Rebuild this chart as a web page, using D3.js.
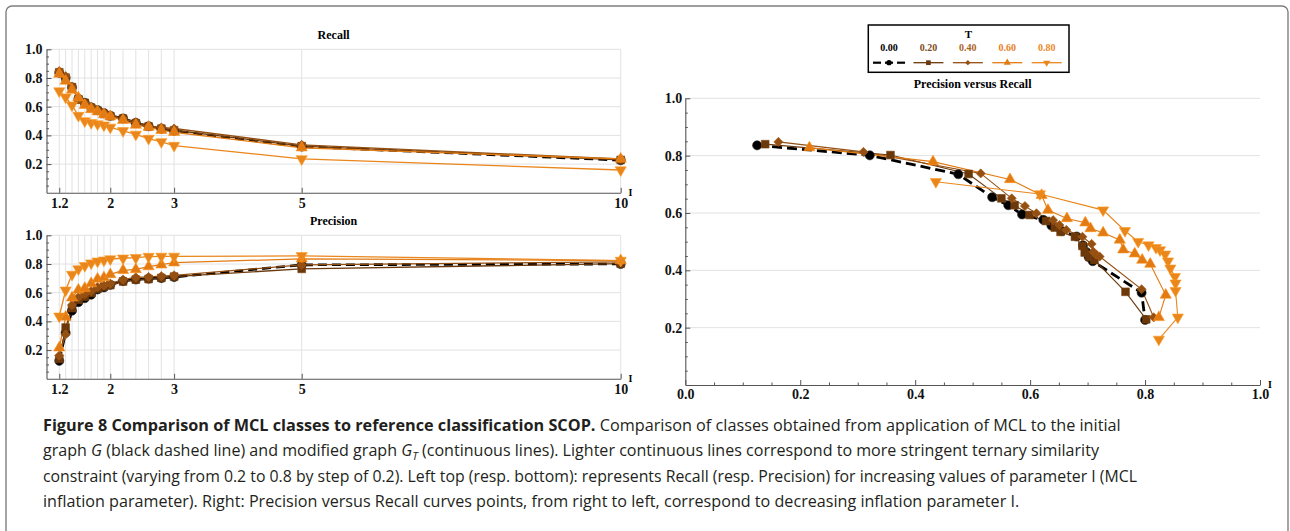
<!DOCTYPE html>
<html>
<head>
<meta charset="utf-8">
<script src="https://cdn.jsdelivr.net/npm/d3@7"></script>
<style>
  html, body { margin: 0; padding: 0; background: #fff; }
  svg { display: block; }
  .tick text { font-family: 'Liberation Serif', 'DejaVu Serif', serif !important; font-weight: bold; }
</style>
</head>
<body>
<script>
// ---------------- DATA ----------------
const I_VALUES = [1.2, 1.3, 1.4, 1.5, 1.6, 1.7, 1.8, 1.9, 2.0, 2.2, 2.4, 2.6, 2.8, 3.0, 5, 10];
const I_TICKS = [1.2, 2, 3, 5, 10];
const Y_TICKS = [0.2, 0.4, 0.6, 0.8, 1.0];
const PR_X_TICKS = [0, 0.2, 0.4, 0.6, 0.8, 1.0];
const T_LABELS = ["0.00", "0.20", "0.40", "0.60", "0.80"];

const recall_T0 = [0.836, 0.801, 0.735, 0.655, 0.627, 0.595, 0.576, 0.556, 0.537, 0.518, 0.487, 0.464, 0.446, 0.432, 0.322, 0.227];
const precision_T0 = [0.125, 0.321, 0.475, 0.534, 0.562, 0.586, 0.623, 0.637, 0.655, 0.681, 0.692, 0.698, 0.702, 0.709, 0.794, 0.800];

const recall_T2 = [0.840, 0.802, 0.736, 0.651, 0.627, 0.593, 0.572, 0.549, 0.534, 0.517, 0.485, 0.462, 0.447, 0.436, 0.325, 0.229];
const precision_T2 = [0.139, 0.357, 0.493, 0.550, 0.573, 0.599, 0.628, 0.643, 0.653, 0.678, 0.691, 0.695, 0.703, 0.712, 0.766, 0.802];

const recall_T4 = [0.848, 0.813, 0.738, 0.651, 0.624, 0.599, 0.575, 0.558, 0.541, 0.517, 0.492, 0.465, 0.455, 0.448, 0.334, 0.236];
const precision_T4 = [0.162, 0.310, 0.514, 0.568, 0.591, 0.611, 0.640, 0.651, 0.663, 0.691, 0.707, 0.710, 0.715, 0.721, 0.794, 0.815];

const recall_T6 = [0.828, 0.779, 0.717, 0.662, 0.610, 0.581, 0.566, 0.546, 0.531, 0.506, 0.472, 0.458, 0.436, 0.422, 0.314, 0.236];
const precision_T6 = [0.216, 0.431, 0.565, 0.620, 0.631, 0.664, 0.696, 0.705, 0.727, 0.756, 0.762, 0.782, 0.795, 0.809, 0.836, 0.824];

const recall_T8 = [0.709, 0.666, 0.610, 0.538, 0.500, 0.488, 0.479, 0.471, 0.456, 0.432, 0.407, 0.378, 0.355, 0.329, 0.236, 0.159];
const precision_T8 = [0.436, 0.617, 0.727, 0.765, 0.788, 0.806, 0.819, 0.826, 0.835, 0.840, 0.844, 0.852, 0.853, 0.853, 0.857, 0.824];

// ---------------- STYLE ----------------
const COLORS = ["#000000", "#6b380b", "#944f12", "#e27b14", "#e9861c"];
const LABEL_COLORS = ["#000000", "#7d4a1c", "#a8651f", "#e8801c", "#ea8a2a"];
const SYMBOLS = ["circle", "square", "diamond", "up", "down"];

const series = T_LABELS.map((t, k) => ({
  t,
  recall: [recall_T0, recall_T2, recall_T4, recall_T6, recall_T8][k],
  precision: [precision_T0, precision_T2, precision_T4, precision_T6, precision_T8][k],
  color: COLORS[k],
  labelColor: LABEL_COLORS[k],
  symbol: SYMBOLS[k],
  dashed: k === 0
}));

const SERIF = "'Liberation Serif', 'DejaVu Serif', serif";
const AXIS_COLOR = "#555";
const GRID_COLOR = "#e2e2e2";

const svg = d3.select("body").append("svg")
  .attr("width", 1290).attr("height", 531)
  .attr("viewBox", "0 0 1290 531");

svg.append("rect").attr("width", 1290).attr("height", 531).attr("fill", "#fff");

// figure frame
svg.append("rect")
  .attr("x", 6).attr("y", 6).attr("width", 1282).attr("height", 560)
  .attr("rx", 6).attr("ry", 6)
  .attr("fill", "none").attr("stroke", "#7f7f7f").attr("stroke-width", 1.4);

function markerPath(sym, size) {
  switch (sym) {
    case "circle": return d3.symbol(d3.symbolCircle, size)();
    case "square": return d3.symbol(d3.symbolSquare, size)();
    case "diamond": return d3.symbol(d3.symbolSquare, size)();
    case "up": return d3.symbol(d3.symbolTriangle, size)();
    case "down": return d3.symbol(d3.symbolTriangle, size)();
  }
}
function markerRot(sym) {
  if (sym === "diamond") return 45;
  if (sym === "down") return 180;
  return 0;
}
const MARKER_SIZE = { circle: 66, square: 60, diamond: 42, up: 54, down: 54 };

function styleAxis(g, fontSize) {
  g.attr("font-family", SERIF).attr("font-size", fontSize).attr("font-weight", "bold");
  g.select(".domain").attr("stroke", AXIS_COLOR).attr("stroke-width", 1.1);
  g.selectAll(".tick line").attr("stroke", AXIS_COLOR).attr("stroke-width", 1);
  g.selectAll(".tick text")
    .attr("fill", "#111")
    .style("font-family", SERIF)
    .style("font-weight", "bold")
    .style("font-size", fontSize + "px");
}

function minorValues(step, lo, hi, majors) {
  const out = [];
  for (let v = lo; v <= hi + 1e-9; v += step) {
    const r = Math.round(v * 1000) / 1000;
    if (!majors.some(m => Math.abs(m - r) < 1e-6)) out.push(r);
  }
  return out;
}

// ---------------- LEFT PANELS ----------------
function leftPanel(yTop, yBottom, key, title, titleY) {
  const x = d3.scaleLinear().domain([1, 10]).range([46.5, 620.7]);
  const y = d3.scaleLinear().domain([0, 1]).range([yBottom, yTop]);
  const g = svg.append("g");

  // grid
  g.append("g").selectAll("line.h").data(Y_TICKS).join("line")
    .attr("x1", x(1)).attr("x2", x(10))
    .attr("y1", d => y(d)).attr("y2", d => y(d))
    .attr("stroke", GRID_COLOR).attr("stroke-width", 1);
  g.append("g").selectAll("line.v").data(I_VALUES).join("line")
    .attr("x1", d => x(d)).attr("x2", d => x(d))
    .attr("y1", y(0)).attr("y2", y(1))
    .attr("stroke", GRID_COLOR).attr("stroke-width", 1);

  // axes
  const ay = g.append("g").attr("transform", `translate(${x(1)},0)`)
    .call(d3.axisLeft(y).tickValues(Y_TICKS).tickFormat(d3.format(".1f"))
      .tickSizeInner(-5).tickSizeOuter(0).tickPadding(4));
  styleAxis(ay, 14);
  const aym = g.append("g").attr("transform", `translate(${x(1)},0)`)
    .call(d3.axisLeft(y).tickValues(minorValues(0.05, 0.05, 0.95, Y_TICKS)).tickFormat("")
      .tickSizeInner(-2.5).tickSizeOuter(0));
  styleAxis(aym, 14);
  aym.select(".domain").remove();

  const ax = g.append("g").attr("transform", `translate(0,${y(0)})`)
    .call(d3.axisBottom(x).tickValues(I_TICKS).tickFormat(d => String(d))
      .tickSizeInner(-5).tickSizeOuter(0).tickPadding(5));
  styleAxis(ax, 14);

  g.append("text").attr("x", 630.5).attr("y", y(0) + 3)
    .attr("text-anchor", "middle")
    .style("font-family", SERIF).style("font-weight", "bold").style("font-size", "10px")
    .text("I");

  g.append("text").attr("x", (x(1) + x(10)) / 2).attr("y", titleY)
    .attr("text-anchor", "middle")
    .style("font-family", SERIF).style("font-weight", "bold").style("font-size", "12px")
    .text(title);

  const line = d3.line().x((d, i) => x(I_VALUES[i])).y(d => y(d));

  series.forEach(s => {
    g.append("path").datum(s[key])
      .attr("d", line)
      .attr("fill", "none")
      .attr("stroke", s.color)
      .attr("stroke-width", s.dashed ? 2.6 : 1.3)
      .attr("stroke-dasharray", s.dashed ? "9,5" : null);
  });
  series.forEach(s => {
    g.append("g").selectAll("path").data(s[key]).join("path")
      .attr("d", markerPath(s.symbol, MARKER_SIZE[s.symbol]))
      .attr("transform", (d, i) => `translate(${x(I_VALUES[i])},${y(d)}) rotate(${markerRot(s.symbol)})`)
      .attr("fill", s.color)
      .attr("stroke", s.dashed ? "#333" : d3.color(s.color).brighter(0.4))
      .attr("stroke-width", 0.6);
  });
}

leftPanel(49.3, 192.8, "recall", "Recall", 39);
leftPanel(235.3, 378.8, "precision", "Precision", 225);

// ---------------- RIGHT PANEL ----------------
(function rightPanel() {
  const x = d3.scaleLinear().domain([0, 1]).range([685.3, 1260]);
  const y = d3.scaleLinear().domain([0, 1]).range([385, 98.3]);
  const g = svg.append("g");

  g.append("g").selectAll("line").data(Y_TICKS).join("line")
    .attr("x1", x(0)).attr("x2", x(1))
    .attr("y1", d => y(d)).attr("y2", d => y(d))
    .attr("stroke", GRID_COLOR).attr("stroke-width", 1);

  const ay = g.append("g").attr("transform", `translate(${x(0)},0)`)
    .call(d3.axisLeft(y).tickValues(Y_TICKS).tickFormat(d3.format(".1f"))
      .tickSizeInner(-5).tickSizeOuter(0).tickPadding(3));
  styleAxis(ay, 14);
  const aym = g.append("g").attr("transform", `translate(${x(0)},0)`)
    .call(d3.axisLeft(y).tickValues(minorValues(0.05, 0.05, 0.95, Y_TICKS)).tickFormat("")
      .tickSizeInner(-2.5).tickSizeOuter(0));
  styleAxis(aym, 14);
  aym.select(".domain").remove();

  const ax = g.append("g").attr("transform", `translate(0,${y(0)})`)
    .call(d3.axisBottom(x).tickValues(PR_X_TICKS).tickFormat(d3.format(".1f"))
      .tickSizeInner(-5).tickSizeOuter(0).tickPadding(4));
  styleAxis(ax, 14);
  const axm = g.append("g").attr("transform", `translate(0,${y(0)})`)
    .call(d3.axisBottom(x).tickValues(minorValues(0.05, 0.05, 0.95, PR_X_TICKS)).tickFormat("")
      .tickSizeInner(-2.5).tickSizeOuter(0));
  styleAxis(axm, 14);
  axm.select(".domain").remove();

  g.append("text").attr("x", 1270).attr("y", y(0) + 3)
    .attr("text-anchor", "middle")
    .style("font-family", SERIF).style("font-weight", "bold").style("font-size", "10px")
    .text("I");

  g.append("text").attr("x", (x(0) + x(1)) / 2).attr("y", 88)
    .attr("text-anchor", "middle")
    .style("font-family", SERIF).style("font-weight", "bold").style("font-size", "12px")
    .text("Precision versus Recall");

  const line = d3.line().x(d => x(d[0])).y(d => y(d[1]));

  series.forEach(s => {
    const pts = s.precision.map((p, i) => [p, s.recall[i]]);
    g.append("path").datum(pts)
      .attr("d", line)
      .attr("fill", "none")
      .attr("stroke", s.color)
      .attr("stroke-width", s.dashed ? 2.8 : 1.1)
      .attr("stroke-dasharray", s.dashed ? "10,5" : null);
  });
  series.forEach(s => {
    const pts = s.precision.map((p, i) => [p, s.recall[i]]);
    g.append("g").selectAll("path").data(pts).join("path")
      .attr("d", markerPath(s.symbol, MARKER_SIZE[s.symbol]))
      .attr("transform", d => `translate(${x(d[0])},${y(d[1])}) rotate(${markerRot(s.symbol)})`)
      .attr("fill", s.color)
      .attr("stroke", s.dashed ? "#333" : d3.color(s.color).brighter(0.4))
      .attr("stroke-width", 0.6);
  });

  // legend
  const lg = svg.append("g");
  lg.append("rect").attr("x", 868.3).attr("y", 25).attr("width", 200.7).attr("height", 47.3)
    .attr("fill", "#fff").attr("stroke", "#000").attr("stroke-width", 1.5);
  lg.append("text").attr("x", 968.5).attr("y", 38)
    .attr("text-anchor", "middle")
    .style("font-family", SERIF).style("font-weight", "bold").style("font-size", "11px")
    .text("T");
  const lx = d3.scalePoint().domain(T_LABELS).range([889, 1046.7]);
  series.forEach(s => {
    const cx = lx(s.t);
    lg.append("text").attr("x", cx).attr("y", 50.5)
      .attr("text-anchor", "middle")
      .attr("fill", s.labelColor)
      .style("font-family", SERIF).style("font-weight", "bold").style("font-size", "10px")
      .text(s.t);
    if (s.dashed) {
      lg.append("line").attr("x1", cx - 16).attr("x2", cx - 8).attr("y1", 62.7).attr("y2", 62.7)
        .attr("stroke", "#000").attr("stroke-width", 2.2);
      lg.append("line").attr("x1", cx + 8).attr("x2", cx + 16).attr("y1", 62.7).attr("y2", 62.7)
        .attr("stroke", "#000").attr("stroke-width", 2.2);
      lg.append("line").attr("x1", cx - 4).attr("x2", cx + 4).attr("y1", 62.7).attr("y2", 62.7)
        .attr("stroke", "#000").attr("stroke-width", 2.2);
    } else {
      lg.append("line").attr("x1", cx - 15).attr("x2", cx + 15).attr("y1", 62.7).attr("y2", 62.7)
        .attr("stroke", s.color).attr("stroke-width", 1.3);
    }
    lg.append("path")
      .attr("d", markerPath(s.symbol, s.symbol === "diamond" ? 14 : 22))
      .attr("transform", `translate(${cx},62.7) rotate(${markerRot(s.symbol)})`)
      .attr("fill", s.color);
  });
})();

// ---------------- CAPTION ----------------
const CAPTION_FONT = "'Open Sans', 'Noto Sans', sans-serif";
const captionLines = [
  { y: 431, end: 1122, parts: [
    { t: "Figure 8 Comparison of MCL classes to reference classification SCOP.", b: true },
    { t: " Comparison of classes obtained from application of MCL to the initial" } ] },
  { y: 456.5, end: 1100, parts: [
    { t: "graph " }, { t: "G", i: true }, { t: " (black dashed line) and modified graph " },
    { t: "G", i: true }, { t: "T", i: true, sub: true },
    { t: " (continuous lines). Lighter continuous lines correspond to more stringent ternary similarity" } ] },
  { y: 482, end: 1138, parts: [
    { t: "constraint (varying from 0.2 to 0.8 by step of 0.2). Left top (resp. bottom): represents Recall (resp. Precision) for increasing values of parameter I (MCL" } ] },
  { y: 507, end: 1020, parts: [
    { t: "inflation parameter). Right: Precision versus Recall curves points, from right to left, correspond to decreasing inflation parameter I." } ] }
];
captionLines.forEach(L => {
  const g = svg.append("g");
  const txt = g.append("text").attr("x", 43).attr("y", L.y)
    .attr("fill", "#231f20")
    .style("font-family", CAPTION_FONT).style("font-size", "16.5px");
  let prevSub = false;
  L.parts.forEach(p => {
    const ts = txt.append("tspan").text(p.t);
    if (p.b) ts.style("font-weight", "bold");
    if (p.i) ts.style("font-style", "italic");
    if (p.sub) ts.attr("dy", 4).style("font-size", "11.5px");
    else if (prevSub) ts.attr("dy", -4);
    prevSub = !!p.sub;
  });
  const w = txt.node().getComputedTextLength();
  const target = L.end - 43;
  const sx = target / w;
  g.attr("transform", `translate(43,0) scale(${sx},1) translate(-43,0)`);
});
</script>
</body>
</html>
